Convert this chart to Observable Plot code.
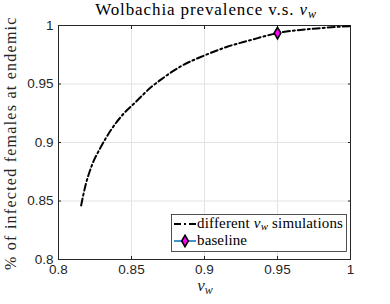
<!DOCTYPE html>
<html><head>
<meta charset="utf-8">
<script src="https://cdn.jsdelivr.net/npm/d3@7"></script>
<script src="https://cdn.jsdelivr.net/npm/@observablehq/plot@0.6"></script>
<style>
body{margin:0;background:#fff}
#chart{position:relative;width:390px;height:304px;overflow:hidden}
#chart svg{position:absolute;left:0;top:0}
.lbl{position:absolute;white-space:nowrap;line-height:0;font-family:'Liberation Serif';color:#000;z-index:2}
.lbl i{font-style:italic}
.lbl .sub{font-style:italic;position:relative;top:3px}
#title{font:17px 'Liberation Serif';line-height:0;left:206px;top:10.3px;transform:translateX(-50%)}
#xlabel{font:17px 'Liberation Serif';line-height:0;left:205px;top:286.3px;transform:translateX(-50%);color:#262626}
#leg1{font:15px 'Liberation Serif';line-height:0;left:197px;top:223.4px}
#leg2{font:15px 'Liberation Serif';line-height:0;left:197px;top:240.4px}
#ylabel{font:16px 'Liberation Serif';line-height:0;left:0;top:143px;color:#262626}
</style>
</head><body>
<div id="chart">
<div class="lbl" id="title">Wolbachia prevalence v.s. <i>v</i><span class="sub" style="font-size:12px">w</span></div>
<div class="lbl" id="xlabel"><i>v</i><span class="sub" style="font-size:12px">w</span></div>
<div class="lbl" id="ylabel">% of infected females at endemic</div>
<div class="lbl" id="leg1">different <i>v</i><span class="sub" style="font-size:11px;top:2px">w</span> simulations</div>
<div class="lbl" id="leg2">baseline</div>
</div>
<script>
const vw = [0.8155, 0.8182, 0.8228, 0.8285, 0.8365, 0.8445, 0.8527, 0.8641, 0.8699, 0.8836, 0.9, 0.916, 0.9315, 0.95, 0.977, 1.0];
const prevalence = [0.8462, 0.8618, 0.8803, 0.8950, 0.9117, 0.9245, 0.9344, 0.9480, 0.9535, 0.9650, 0.9744, 0.982, 0.9875, 0.9935, 0.9975, 0.9995];
const baselineVw = [0.95];
const baselinePrev = [0.9935];
const xTicks = [0.8, 0.85, 0.9, 0.95, 1];
const yTicks = [0.8, 0.85, 0.9, 0.95, 1];

const curve = vw.map((v, i) => ({vw: v, p: prevalence[i]}));
const base = baselineVw.map((v, i) => ({vw: v, p: baselinePrev[i]}));
const fmt = d => String(+d.toFixed(2));
const axisColor = "#262626";
const sans = "'Liberation Sans', Arial, sans-serif";

const plot = Plot.plot({
  width: 390, height: 304,
  marginLeft: 58, marginRight: 40, marginTop: 25, marginBottom: 45,
  style: {fontSize: "13.5px", color: axisColor, background: "#fff"},
  x: {domain: [0.8, 1]},
  y: {domain: [0.8, 1]},
  marks: [
    Plot.gridX(xTicks, {stroke: "#e3e3e3", strokeOpacity: 1}),
    Plot.gridY(yTicks, {stroke: "#e3e3e3", strokeOpacity: 1}),
    Plot.axisX(xTicks, {anchor: "bottom", tickSize: -3, tickPadding: 8, tickFormat: fmt, label: null, stroke: axisColor, fill: axisColor, fontFamily: sans}),
    Plot.axisX(xTicks, {anchor: "top", tickSize: -3, tickFormat: () => "", label: null, stroke: axisColor}),
    Plot.axisY(yTicks, {anchor: "left", tickSize: -3, tickPadding: 8, tickFormat: fmt, label: null, stroke: axisColor, fill: axisColor, fontFamily: sans}),
    Plot.axisY(yTicks, {anchor: "right", tickSize: -3, tickFormat: () => "", label: null, stroke: axisColor}),
    Plot.frame({stroke: axisColor, strokeWidth: 1}),
    Plot.line(curve, {x: "vw", y: "p", stroke: "#000", strokeWidth: 2, strokeDasharray: "7,3,2,3", curve: "monotone-x"}),
    Plot.dot(base, {x: "vw", y: "p", symbol: "diamond", r: 3.5, fill: "#ff00ff", stroke: "#000", strokeWidth: 1.6})
  ]
});
const chart = document.getElementById("chart");
chart.insertBefore(plot, chart.firstChild);

// legend box and samples
const svg = d3.select(plot);
const lg = svg.append("g");
lg.append("rect").attr("x", 171.5).attr("y", 214.5).attr("width", 175).attr("height", 37)
  .attr("fill", "#fff").attr("stroke", axisColor).attr("stroke-width", 0.8);
lg.append("line").attr("x1", 174).attr("x2", 196).attr("y1", 224).attr("y2", 224)
  .attr("stroke", "#000").attr("stroke-width", 2).attr("stroke-dasharray", "7,3,2,3");
lg.append("line").attr("x1", 174).attr("x2", 196).attr("y1", 241).attr("y2", 241)
  .attr("stroke", "#0072BD").attr("stroke-width", 1.5);
lg.append("path").attr("d", d3.symbol(d3.symbolDiamond, Math.PI * 3.5 * 3.5)()).attr("transform", "translate(185,241)")
  .attr("fill", "#ff00ff").attr("stroke", "#000").attr("stroke-width", 1.6);

// stretch letter spacing of the labels to the reference widths
function fit(id, target) {
  const d = document.getElementById(id);
  const w = d.scrollWidth;
  const n = d.textContent.length;
  d.style.letterSpacing = Math.max(0, (target - w) / n).toFixed(3) + "px";
  return d;
}
fit("title", 222);
fit("leg1", 146);
fit("leg2", 50);
const yl = fit("ylabel", 254);
const yw = yl.scrollWidth;
yl.style.transformOrigin = (yw / 2) + "px 0px";
yl.style.transform = "rotate(-90deg)";
yl.style.left = (16 - 0.3375 * 16 - yw / 2) + "px";
</script>
</body></html>
